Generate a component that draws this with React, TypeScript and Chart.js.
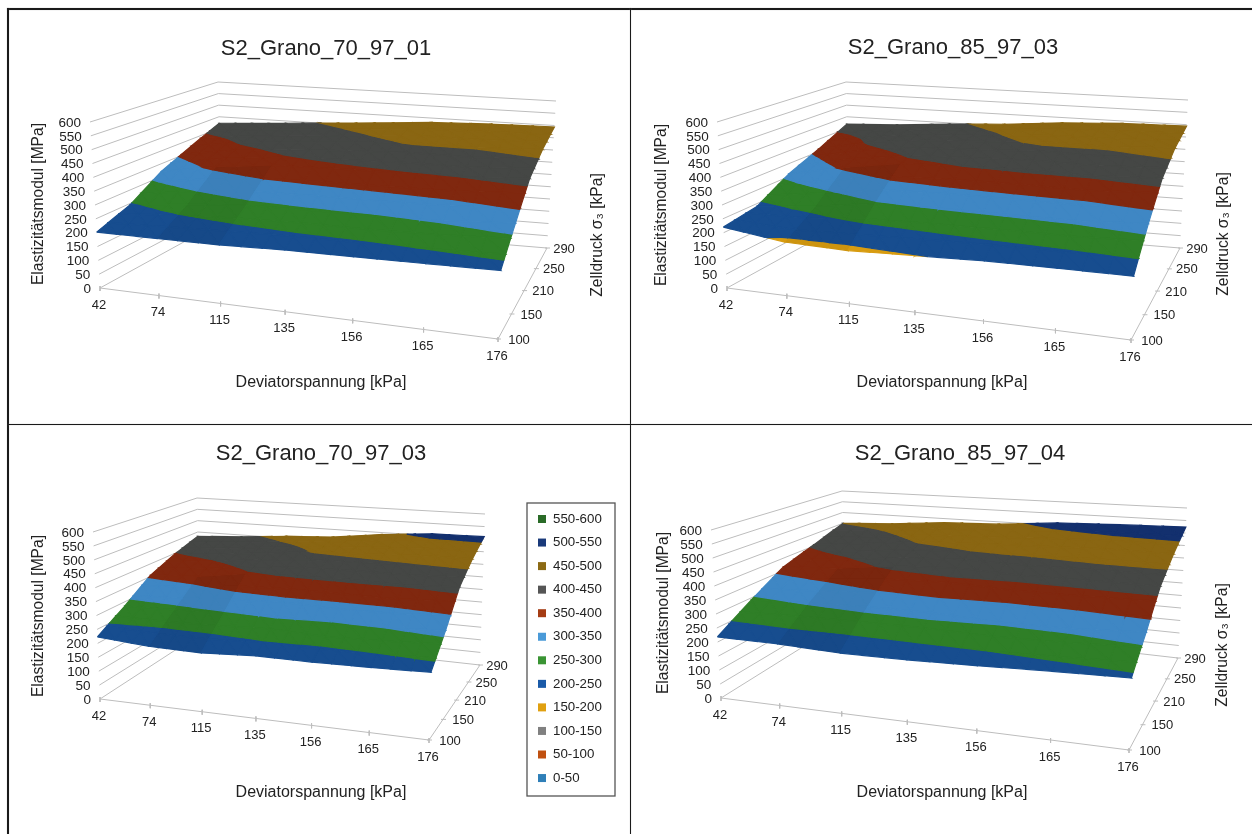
import React, { useEffect, useRef } from "react";
import { Chart, registerables } from "chart.js";

Chart.register(...registerables);

// ---------- data ----------
const deviatorTicks = ["42", "74", "115", "135", "156", "165", "176"];
const cellTicks = ["100", "150", "210", "250", "290"];
const modulusTicks = [0, 50, 100, 150, 200, 250, 300, 350, 400, 450, 500, 550, 600];
const bandLabels = ["550-600", "500-550", "450-500", "400-450", "350-400", "300-350", "250-300", "200-250", "150-200", "100-150", "50-100", "0-50"];
const bandLows = [550, 500, 450, 400, 350, 300, 250, 200, 150, 100, 50, 0];
const surfaceColors = ["#2a6b28", "#13306e", "#8a6612", "#454745", "#80280f", "#3f87c4", "#2f7f27", "#174d8f", "#d89c10", "#808080", "#c05010", "#2f7fb8"];
const legendColors = ["#2a6b28", "#1a3a7a", "#8c6a14", "#555555", "#a53c14", "#4a9ad8", "#3a9434", "#1a5aa8", "#e0a010", "#808080", "#c05010", "#2f7fb8"];

const grano7097_01 = [
  [202, 204, 207, 216, 220, 225, 231],
  [245, 269, 288, 294, 296, 304, 322],
  [320, 358, 383, 390, 396, 400, 416],
  [372, 403, 421, 438, 453, 452, 464],
  [422, 435, 450, 465, 482, 490, 494],
];
const grano8597_03 = [
  [220, 192, 188, 198, 208, 212, 215],
  [240, 262, 295, 302, 304, 306, 322],
  [310, 355, 390, 400, 406, 405, 418],
  [360, 405, 428, 440, 456, 455, 468],
  [418, 428, 445, 458, 478, 490, 494],
];
const grano7097_03 = [
  [223, 210, 207, 218, 218, 222, 228],
  [284, 289, 297, 304, 294, 300, 313],
  [355, 368, 396, 403, 407, 404, 415],
  [397, 412, 431, 452, 458, 467, 470],
  [431, 442, 458, 468, 492, 508, 510],
];
const grano8597_04 = [
  [218, 218, 211, 214, 222, 232, 240],
  [292, 303, 312, 314, 305, 308, 323],
  [365, 380, 408, 422, 415, 418, 420],
  [405, 427, 452, 462, 470, 478, 478],
  [450, 462, 482, 490, 510, 518, 524],
];

// ---------- view of each panel ----------
type P = [number, number];
interface Panel {
  title: string; values: number[][]; box: [number, number, number, number];
  fl: P; fr: P; bl: P; br: P; flt: P; frt: P; blt: P; brt: P; ru: number; rv: number;
  titleAt: P; xTitleAt: P; yTitleAt: P; zTitleAt: P | null; legend?: boolean;
}
const panels: Panel[] = [
  { title: "S2_Grano_70_97_01", values: grano7097_01, box: [9, 9, 621, 415],
    fl: [100, 288], fr: [498, 339], bl: [222, 221], br: [547, 248], flt: [90, 122], frt: [505, 161], blt: [218, 82], brt: [556, 101], ru: 1.15, rv: 0.88,
    titleAt: [326, 49], xTitleAt: [321, 383], yTitleAt: [38.5, 204], zTitleAt: [598, 235] },
  { title: "S2_Grano_85_97_03", values: grano8597_03, box: [631, 9, 621, 415],
    fl: [727, 288], fr: [1131, 340], bl: [849, 221], br: [1180, 248], flt: [717, 122], frt: [1138, 162], blt: [846, 82], brt: [1188, 100], ru: 1.15, rv: 0.88,
    titleAt: [953, 48], xTitleAt: [942, 383], yTitleAt: [661.5, 205], zTitleAt: [1224, 234] },
  { title: "S2_Grano_70_97_03", values: grano7097_03, box: [9, 425, 621, 409],
    fl: [100, 699], fr: [429, 740], bl: [200, 634], br: [480, 665], flt: [93, 532], frt: [434, 562], blt: [197, 498], brt: [485, 514], ru: 1.11, rv: 0.88,
    titleAt: [321, 454], xTitleAt: [321, 793], yTitleAt: [38.5, 616], zTitleAt: null, legend: true },
  { title: "S2_Grano_85_97_04", values: grano8597_04, box: [631, 425, 621, 409],
    fl: [721, 698], fr: [1129, 750], bl: [846, 620], br: [1178, 658], flt: [711, 530], frt: [1135, 570], blt: [842, 491], brt: [1187, 508], ru: 1.19, rv: 0.88,
    titleAt: [960, 454], xTitleAt: [942, 793], yTitleAt: [663.5, 613], zTitleAt: [1223, 645] },
];

const persp = (s: number, r: number) => s / (s + (1 - s) * r);
const mix = (a: P, b: P, t: number): P => [a[0] + (b[0] - a[0]) * t, a[1] + (b[1] - a[1]) * t];

function project(p: Panel, col: number, row: number, w: number): P {
  const u = persp(col / (deviatorTicks.length - 1), p.ru);
  const v = persp(row / (cellTicks.length - 1), p.rv);
  const floor = mix(mix(p.fl, p.fr, u), mix(p.bl, p.br, u), v);
  const top = mix(mix(p.flt, p.frt, u), mix(p.blt, p.brt, u), v);
  return mix(floor, top, w / 600);
}

type V3 = [number, number, number];
function clipBand(tri: V3[], lo: number, hi: number): V3[] {
  const clip = (poly: V3[], limit: number, keepAbove: boolean) => {
    const out: V3[] = [];
    poly.forEach((a, i) => {
      const b = poly[(i + 1) % poly.length];
      const inA = keepAbove ? a[2] >= limit : a[2] <= limit;
      const inB = keepAbove ? b[2] >= limit : b[2] <= limit;
      if (inA) out.push(a);
      if (inA !== inB) {
        const t = (limit - a[2]) / (b[2] - a[2]);
        out.push([a[0] + (b[0] - a[0]) * t, a[1] + (b[1] - a[1]) * t, limit]);
      }
    });
    return out;
  };
  const first = clip(tri, lo, true);
  return first.length ? clip(first, hi, false) : [];
}

function shade(hex: string, f: number) {
  const n = parseInt(hex.slice(1), 16);
  const c = [(n >> 16) & 255, (n >> 8) & 255, n & 255].map((x) => Math.max(0, Math.min(255, Math.round(x * f))));
  return `rgb(${c[0]},${c[1]},${c[2]})`;
}

const SUB = 3;

function buildDatasets(p: Panel) {
  const sets: any[] = [];
  const line = (pts: P[], color: string, width = 1) =>
    sets.push({ data: pts.map(([x, y]) => ({ x, y })), showLine: true, borderColor: color, borderWidth: width, pointRadius: 0, fill: false, order: 0 });
  const grid = "#bdbdbd";
  const cols = deviatorTicks.length - 1;
  const rows = cellTicks.length - 1;
  modulusTicks.forEach((w) => {
    line([project(p, 0, 0, w), project(p, 0, rows, w), project(p, cols, rows, w)], grid);
  });
  line([project(p, 0, 0, 0), project(p, cols, 0, 0), project(p, cols, rows, 0)], grid);
  deviatorTicks.forEach((_, i) => {
    const c = project(p, i, 0, 0);
    line([[c[0], c[1] - 2], [c[0], c[1] + 3]], grid);
  });
  cellTicks.forEach((_, j) => {
    const c = project(p, cols, j, 0);
    line([[c[0] - 2, c[1]], [c[0] + 3, c[1]]], grid);
  });
  const vals = p.values;
  const at = (c: number, r: number, i: number, j: number): V3 => {
    const s = i / SUB;
    const t = j / SUB;
    const lo = vals[r][c] * (1 - s) + vals[r][c + 1] * s;
    const hi = vals[r + 1][c] * (1 - s) + vals[r + 1][c + 1] * s;
    return [c + s, r + t, lo * (1 - t) + hi * t];
  };
  for (let r = 0; r < rows; r++) {
    for (let c = 0; c < cols; c++) {
      const f = c === 1 && r <= 1 ? 0.95 : 1;
      for (let i = 0; i < SUB; i++) {
        for (let j = 0; j < SUB; j++) {
          const a = at(c, r, i, j);
          const b = at(c, r, i + 1, j);
          const d = at(c, r, i + 1, j + 1);
          const e = at(c, r, i, j + 1);
          for (const tri of [[a, b, e], [b, d, e]] as V3[][]) {
            bandLows.forEach((lo, bi) => {
              const poly = clipBand(tri, lo, lo + 50);
              if (poly.length < 3) return;
              const pts = poly.map((q) => project(p, q[0], q[1], q[2]));
              const col = shade(surfaceColors[bi], f);
              sets.push({
                label: bandLabels[bi],
                data: [...pts, pts[0]].map(([x, y]) => ({ x, y })),
                showLine: true, pointRadius: 0, borderColor: col, borderWidth: 1.2,
                backgroundColor: col, fill: "shape",
                // each higher band is painted whole, over the band below it
                order: -(1 + lo / 50) * 2 + (f < 1 ? 1 : 0),
              });
            });
          }
        }
      }
    }
  }
  return sets;
}

const textPlugin = (p: Panel) => ({
  id: "panelText",
  afterDraw(chart: any) {
    const ctx: CanvasRenderingContext2D = chart.ctx;
    const sx = chart.scales.x;
    const sy = chart.scales.y;
    const px = (a: P): P => [sx.getPixelForValue(a[0]), sy.getPixelForValue(a[1])];
    const face = '"Liberation Sans", Arial, sans-serif';
    const text = (s: string, at: P, size: number, align: CanvasTextAlign = "center", rot = 0) => {
      const [x, y] = px(at);
      ctx.save();
      ctx.translate(x, y);
      ctx.rotate(rot);
      ctx.font = `${size}px ${face}`;
      ctx.fillStyle = "#222222";
      ctx.textAlign = align;
      ctx.textBaseline = "middle";
      ctx.fillText(s, 0, 0);
      ctx.restore();
    };
    const cols = deviatorTicks.length - 1;
    const rows = cellTicks.length - 1;
    text(p.title, p.titleAt, 22);
    text("Deviatorspannung [kPa]", p.xTitleAt, 16);
    text("Elastizitätsmodul [MPa]", p.yTitleAt, 15.6, "center", -Math.PI / 2);
    if (p.zTitleAt) text("Zelldruck σ₃ [kPa]", p.zTitleAt, 15.6, "center", -Math.PI / 2);
    modulusTicks.forEach((w) => {
      const c = project(p, 0, 0, w);
      text(String(w), [c[0] - 9, c[1] + 1], 13.5, "right");
    });
    deviatorTicks.forEach((t, i) => {
      const c = project(p, i, 0, 0);
      text(t, [c[0] - 1, c[1] + 17], 13);
    });
    cellTicks.forEach((t, j) => {
      const c = project(p, cols, j, 0);
      text(t, [c[0] + 21 - (4 * j) / rows, c[1] + 1], 13);
    });
    if (p.legend) {
      const [bx, by] = px([527, 503]);
      ctx.save();
      ctx.strokeStyle = "#555555";
      ctx.lineWidth = 1.3;
      ctx.fillStyle = "#ffffff";
      ctx.fillRect(bx, by, 88, 293);
      ctx.strokeRect(bx, by, 88, 293);
      ctx.restore();
      bandLabels.forEach((label, i) => {
        const yy = 519 + i * 23.55;
        const [qx, qy] = px([538, yy - 4]);
        ctx.fillStyle = legendColors[i];
        ctx.fillRect(qx, qy, 8, 8);
        text(label, [553, yy], 13.3, "left");
      });
    }
  },
});

function PanelChart({ panel }: { panel: Panel }) {
  const ref = useRef<HTMLCanvasElement | null>(null);
  useEffect(() => {
    if (!ref.current) return;
    const [x, y, w, h] = panel.box;
    const chart = new Chart(ref.current, {
      type: "scatter",
      data: { datasets: buildDatasets(panel) },
      options: {
        animation: false,
        responsive: false,
        devicePixelRatio: 1,
        layout: { padding: 0 },
        plugins: { legend: { display: false }, title: { display: false }, tooltip: { enabled: false } },
        scales: {
          x: { type: "linear", display: false, min: x, max: x + w },
          y: { type: "linear", display: false, min: y, max: y + h, reverse: true },
        },
      },
      plugins: [textPlugin(panel)],
    } as any);
    return () => chart.destroy();
  }, [panel]);
  const [x, y, w, h] = panel.box;
  return (
    <canvas ref={ref} width={w} height={h}
      style={{ position: "absolute", left: x, top: y, width: w, height: h, filter: "blur(0.5px)" }} />
  );
}

const rule = (left: number, top: number, width: number, height: number) => (
  <div style={{ position: "absolute", left, top, width, height, background: "#1a1a1a", boxShadow: "0 0 1px #999999" }} />
);

export default function App() {
  return (
    <div style={{ position: "fixed", left: 0, top: 0, width: 1252, height: 834, background: "#ffffff", overflow: "hidden" }}>
      {panels.map((p) => <PanelChart key={p.title} panel={p} />)}
      {rule(7, 8, 1245, 2)}
      {rule(7, 8, 2, 826)}
      {rule(629.5, 8, 1.5, 826)}
      {rule(8, 423.5, 1244, 1.5)}
    </div>
  );
}
